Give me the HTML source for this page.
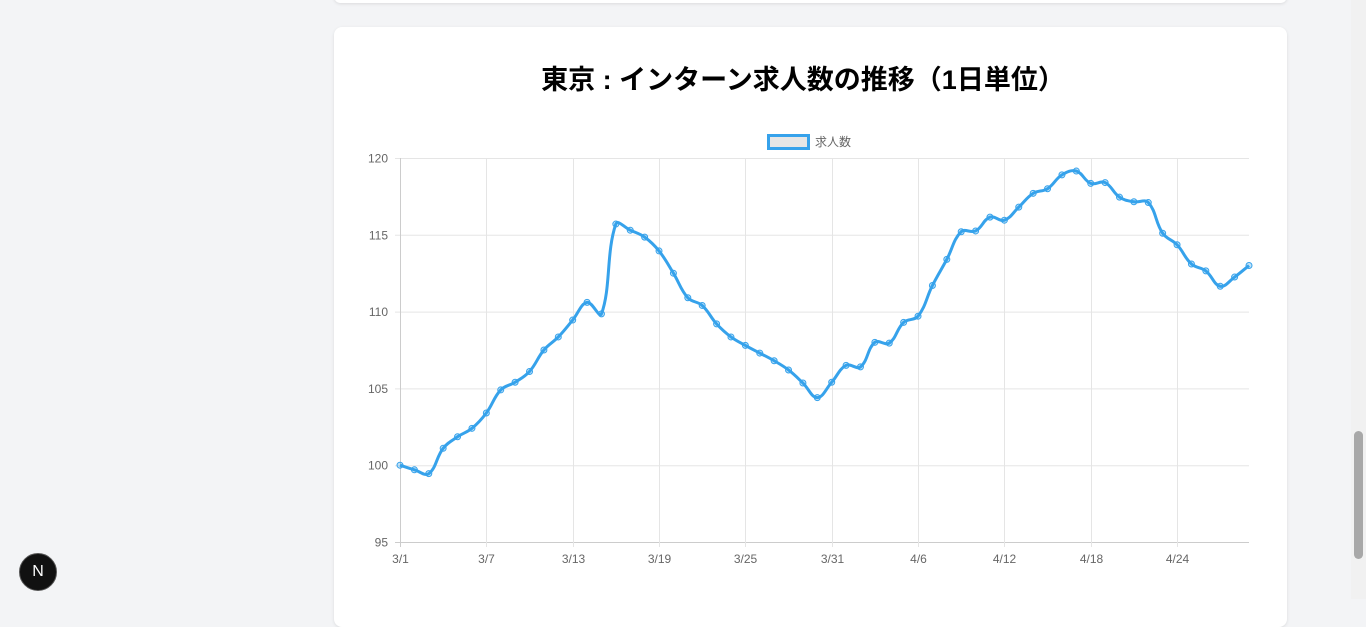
<!DOCTYPE html>
<html><head><meta charset="utf-8"><style>
body{margin:0;width:1366px;height:599px;background:#f3f4f6;overflow:hidden;font-family:"Liberation Sans","Noto Sans CJK JP",sans-serif;position:relative}
.card{position:absolute;left:334px;top:27px;width:953px;height:600px;background:#fff;border-radius:8px;box-shadow:0 1px 3px rgba(0,0,0,.1)}
.topcard{position:absolute;left:334px;top:-10px;width:953px;height:13px;background:#fff;border-radius:8px;box-shadow:0 1px 3px rgba(0,0,0,.1)}
.sb{position:absolute;right:0;top:0;width:15px;height:599px;background:#f1f1f1}
.thumb{position:absolute;left:3px;top:431px;width:9px;height:128px;background:#a8a8a8;border-radius:5px}
.nx{position:absolute;left:19px;top:553px;width:38px;height:38px;border-radius:50%;background:#111;border:1px solid #555;box-sizing:border-box;color:#fff;font-size:16px;display:flex;align-items:center;justify-content:center}
</style></head><body>
<div class="topcard"></div>
<div class="card"></div>
<svg width="1366" height="599" style="position:absolute;left:0;top:0" id="svg">
<text x="803" y="89" text-anchor="middle" font-size="27" font-weight="bold" fill="#000">東京 : インターン求人数の推移（1日単位）</text>
<g><rect x="768.5" y="135.5" width="40" height="13" fill="#e6e6e6" stroke="#36a2eb" stroke-width="3"/><text x="815" y="146" font-size="12" fill="#666">求人数</text></g>
<g id="grid"></g><g id="line"></g>
</svg>
<div class="sb"><div class="thumb"></div></div>
<div class="nx">N</div>
<script>
const values=[100.0,99.7,99.45,101.1,101.85,102.4,103.4,104.9,105.4,106.1,107.5,108.35,109.45,110.6,109.85,115.7,115.3,114.85,113.95,112.5,110.9,110.4,109.2,108.35,107.8,107.3,106.8,106.2,105.35,104.4,105.4,106.5,106.4,108.0,107.95,109.3,109.7,111.7,113.4,115.2,115.25,116.15,115.95,116.8,117.7,118.0,118.9,119.15,118.35,118.4,117.45,117.15,117.1,115.1,114.35,113.1,112.65,111.65,112.25,113.0];
const yTicks=[95,100,105,110,115,120];
const xTickIdx=[0,6,12,18,24,30,36,42,48,54];
const xTickLabels=["3/1","3/7","3/13","3/19","3/25","3/31","4/6","4/12","4/18","4/24"];
const X0=400,X1=1249,Y0=542,Y1=158;
const xs=i=>X0+(X1-X0)*i/(values.length-1);
const ys=v=>Y0-(v-95)/(120-95)*(Y0-Y1);
const NS="http://www.w3.org/2000/svg";
const g=document.getElementById('grid'),l=document.getElementById('line');
function mk(t,a,p){const e=document.createElementNS(NS,t);for(const k in a)e.setAttribute(k,a[k]);p.appendChild(e);return e;}
yTicks.forEach(v=>{const y=ys(v)+.5;
const ln=mk('line',{x1:X0-5,x2:X1,y1:y,y2:y,stroke:v==95?'#ccc':'#e5e5e5'},g);


const t=mk('text',{x:388,y:y+4,'text-anchor':'end','font-size':12,fill:'#666'},g);t.textContent=v;

});
xTickIdx.forEach((i,k)=>{const x=Math.round(xs(i))+.5;
const ln=mk('line',{x1:x,x2:x,y1:Y1,y2:Y0+5,stroke:i==0?'#ccc':'#e5e5e5'},g);


const t=mk('text',{x:x,y:563,'text-anchor':'middle','font-size':12,fill:'#666'},g);t.textContent=xTickLabels[k];

});
const pts=values.map((v,i)=>[xs(i),ys(v)]);const T=0.4;
let d=`M${pts[0][0]},${pts[0][1]}`;
const cp=pts.map((p,i)=>{const a=pts[Math.max(0,i-1)],c=pts[Math.min(pts.length-1,i+1)];
const d01=Math.hypot(p[0]-a[0],p[1]-a[1]),d12=Math.hypot(c[0]-p[0],c[1]-p[1]);
let fa=T*d01/(d01+d12||1),fb=T*d12/(d01+d12||1);
return {p:[p[0]-fa*(c[0]-a[0]),p[1]-fa*(c[1]-a[1])],n:[p[0]+fb*(c[0]-a[0]),p[1]+fb*(c[1]-a[1])]};});
for(let i=1;i<pts.length;i++){d+=` C${cp[i-1].n[0]},${cp[i-1].n[1]} ${cp[i].p[0]},${cp[i].p[1]} ${pts[i][0]},${pts[i][1]}`;}
const path=mk('path',{d:d,fill:'none',stroke:'#36a2eb','stroke-width':3},l);


pts.forEach(p=>{const c=mk('circle',{cx:p[0],cy:p[1],r:3,fill:'rgba(54,162,235,0.3)',stroke:'#36a2eb','stroke-width':1},l);

});
</script>
</body></html>
